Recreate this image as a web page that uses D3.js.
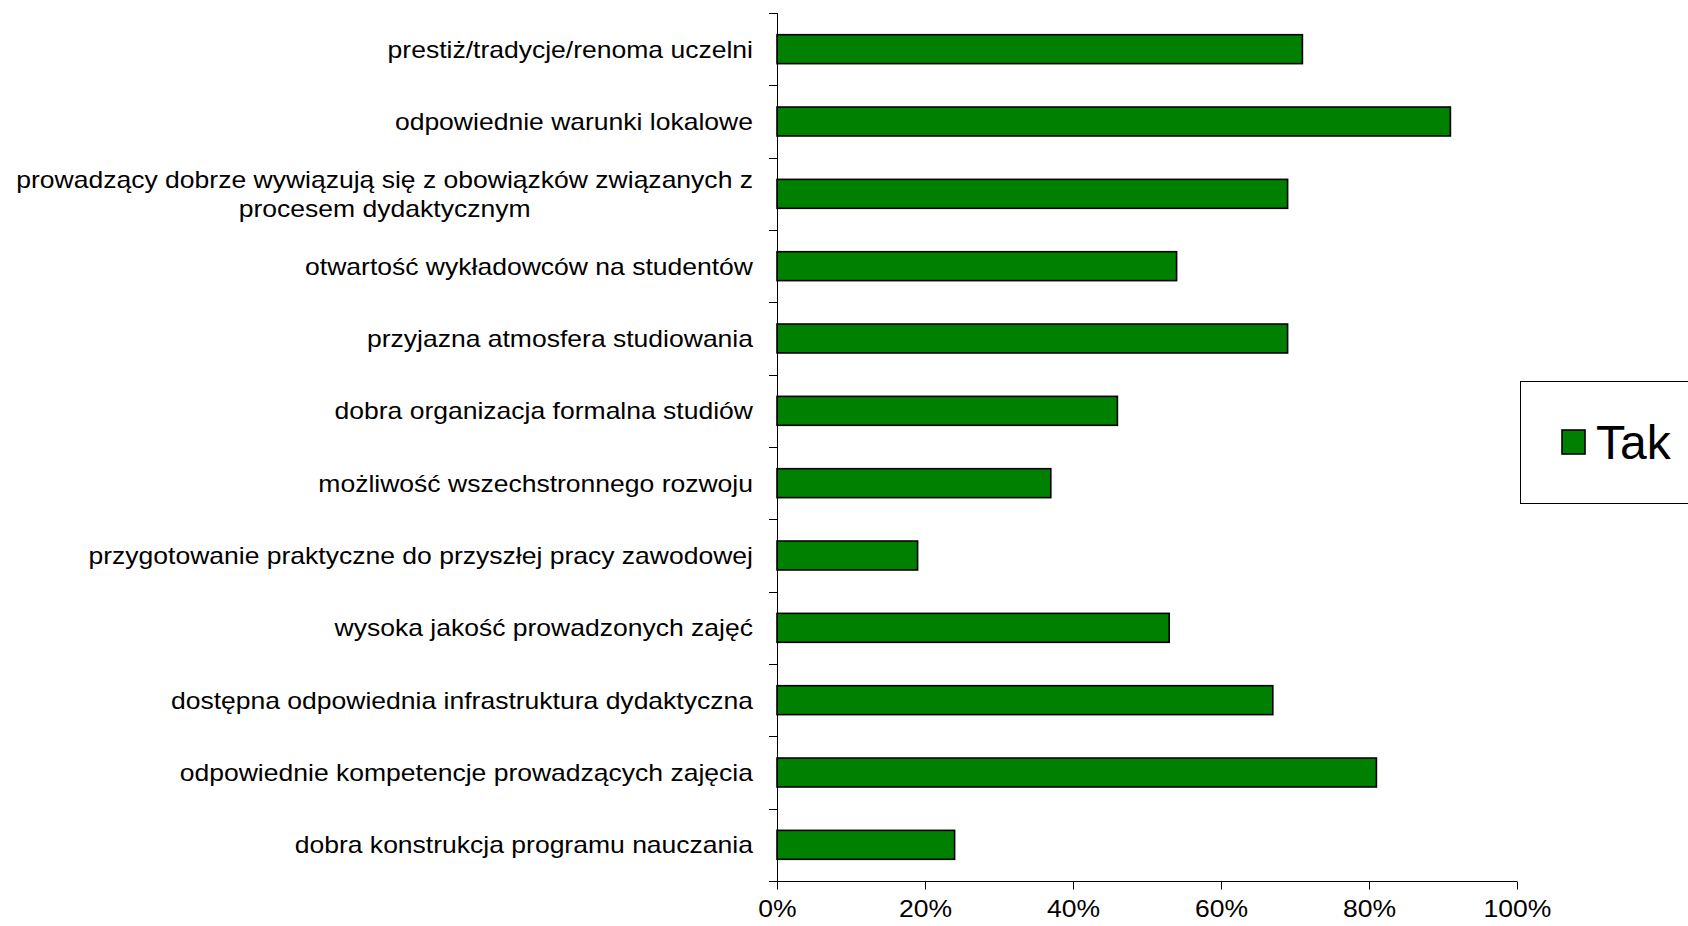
<!DOCTYPE html>
<html><head><meta charset="utf-8">
<script src="https://cdn.jsdelivr.net/npm/d3@7"></script>
<style>body{margin:0;background:#fff}svg{display:block}text{font-family:"Liberation Sans",Arial,sans-serif}</style>
</head><body><svg id="c" width="1688" height="926"></svg>
<script>
const categories = [
  "prestiż/tradycje/renoma uczelni",
  "odpowiednie warunki lokalowe",
  "prowadzący dobrze wywiązują się z obowiązków związanych z\nprocesem dydaktycznym",
  "otwartość wykładowców na studentów",
  "przyjazna atmosfera studiowania",
  "dobra organizacja formalna studiów",
  "możliwość wszechstronnego rozwoju",
  "przygotowanie praktyczne do przyszłej pracy zawodowej",
  "wysoka jakość prowadzonych zajęć",
  "dostępna odpowiednia infrastruktura dydaktyczna",
  "odpowiednie kompetencje prowadzących zajęcia",
  "dobra konstrukcja programu nauczania"
];
const takValues = [71, 91, 69, 54, 69, 46, 37, 19, 53, 67, 81, 24];
const xTicks = [0, 20, 40, 60, 80, 100];
const seriesName = "Tak";

const svg = d3.select("#c");
const pL = 777, pR = 1517, pT = 13, pB = 881;
const sx = 1.105;
const x = d3.scaleLinear().domain([0, 100]).range([pL, pR]);
const y = d3.scaleBand().domain(categories).range([pT, pB]).paddingInner(0.6).paddingOuter(0.3);
const yb = d3.scaleBand().domain(categories).range([pT, pB]);

// bars
svg.append("g").selectAll("rect").data(categories).join("rect")
  .attr("x", x(0)).attr("y", d => y(d))
  .attr("width", (d, i) => x(takValues[i]) - x(0))
  .attr("height", y.bandwidth())
  .attr("fill", "#008000").attr("stroke", "#000").attr("stroke-width", 1.6);

// y axis line + boundary ticks
const ya = svg.append("g").attr("stroke", "#000").attr("stroke-width", 1);
ya.append("line").attr("x1", pL + 0.5).attr("x2", pL + 0.5).attr("y1", pT).attr("y2", pB);
const bounds = categories.map(c => yb(c)).concat([pB]);
ya.selectAll("line.t").data(bounds).join("line").attr("class", "t")
  .attr("x1", pL - 8).attr("x2", pL).attr("y1", d => Math.round(d) + 0.5).attr("y2", d => Math.round(d) + 0.5);

// category labels
const lbl = svg.append("g").attr("font-size", 24).attr("fill", "#000");
categories.forEach(c => {
  const lines = c.split("\n");
  const cy = yb(c) + yb.bandwidth() / 2;
  const lh = 29;
  const g = lbl.append("g").attr("transform", `translate(753,${cy}) scale(${sx},1)`);
  const t = g.append("text").attr("text-anchor", lines.length > 1 ? "middle" : "end");
  lines.forEach((ln, i) => {
    t.append("tspan").attr("x", 0).attr("y", (i - (lines.length - 1) / 2) * lh).attr("dy", "0.35em").text(ln);
  });
  if (lines.length > 1) {
    const w = t.node().getBBox().width;
    t.selectAll("tspan").attr("x", -w / 2);
  }
});

// x axis
const xa = svg.append("g").attr("transform", `translate(0,${pB + 0.5})`)
  .call(d3.axisBottom(x).tickValues(xTicks).tickSize(8).tickSizeOuter(0).tickFormat(d => d + "%"));
xa.select(".domain").remove();
xa.append("line").attr("x1", pL - 8).attr("x2", pR).attr("stroke", "#000");
xa.selectAll(".tick line").attr("stroke", "#000");
xa.selectAll(".tick text").attr("font-size", 24).attr("fill", "#000").attr("font-family", '"Liberation Sans",Arial,sans-serif')
  .attr("y", 18).attr("dy", "0.71em").attr("transform", `scale(${sx},1)`);

// legend
const lg = svg.append("g");
lg.append("rect").attr("x", 1520.5).attr("y", 381.5).attr("width", 200).attr("height", 122).attr("fill", "#fff").attr("stroke", "#000");
lg.append("rect").attr("x", 1562).attr("y", 430).attr("width", 23).attr("height", 24).attr("fill", "#008000").attr("stroke", "#000").attr("stroke-width", 1.6);
lg.append("text").attr("x", 1596).attr("y", 442).attr("dy", "0.35em").attr("font-size", 48).text(seriesName);
</script></body></html>
